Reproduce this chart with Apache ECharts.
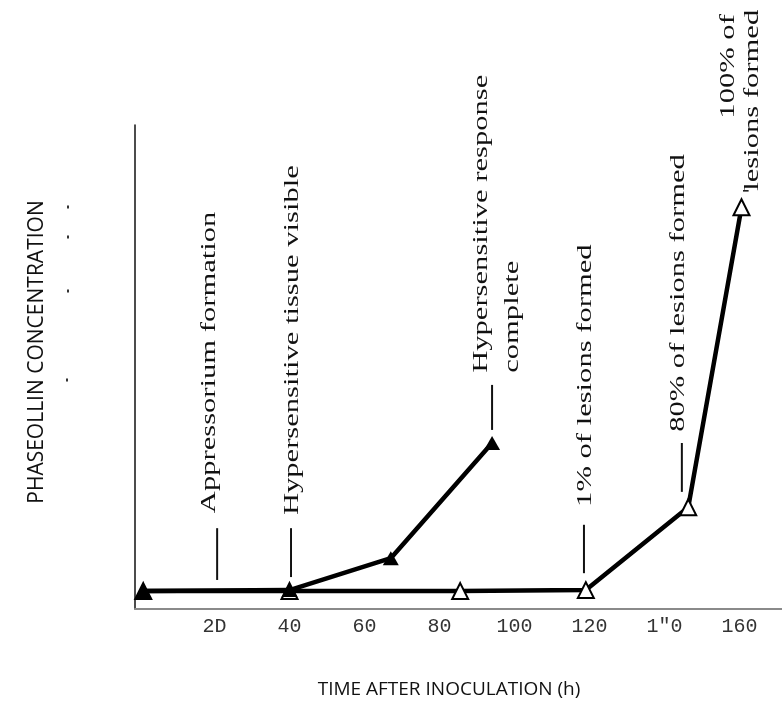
<!DOCTYPE html>
<html>
<head>
<meta charset="utf-8">
<script src="https://cdn.jsdelivr.net/npm/echarts@6/dist/echarts.min.js"></script>
<style>
  html, body { margin: 0; padding: 0; background: #fff; }
  #main { width: 782px; height: 728px; }
</style>
</head>
<body>
<div id="main"></div>
<script>
// hours after inoculation / phaseollin (relative units, no y scale in the original)
const hoursOpen = [1, 40, 85.5, 119, 146.3, 160.5];
const concOpen = [3.7, 3.7, 3.7, 3.9, 21.0, 83.0];
const hoursFilled = [1, 40, 67, 94];
const concFilled = [3.7, 3.9, 10.5, 34.3];

// tick labels as printed (scan typos kept)
const tickValues = [20, 40, 60, 80, 100, 120, 140, 160];
const tickLabels = ['2D', '40', '60', '80', '100', '120', '1"0', '160'];

// event notes, in data units
const noteTexts = ['Appressorium formation', 'Hypersensitive tissue visible', 'Hypersensitive response', 'complete',
  '1% of lesions formed', '80% of lesions formed', '100% of', 'lesions formed'];
const noteX = [18.5, 40.7, 91.0, 99.3, 118.8, 143.6, 156.9, 163.3];
const noteY = [19.8, 19.4, 48.8, 48.8, 21.1, 36.6, 122.9, 123.8];
const noteAlign = ['left', 'left', 'left', 'left', 'left', 'left', 'right', 'right'];

const leaderX = [20.7, 40.4, 94.0, 118.5, 144.6];
const leaderTop = [16.7, 16.7, 46.3, 17.4, 34.3];
const leaderBottom = [6.0, 6.6, 37.0, 7.4, 24.2];

const chart = echarts.init(document.getElementById('main'));

chart.setOption({
  animation: false,
  backgroundColor: '#fff',
  grid: { left: 135, right: 0, top: 125, bottom: 119, containLabel: false, outerBoundsMode: 'none' },
  xAxis: {
    type: 'value',
    min: -1.2,
    max: 171.3,
    axisLine: { show: true, lineStyle: { color: '#8a8a8a', width: 2 } },
    axisTick: { show: false },
    splitLine: { show: false },
    axisLabel: {
      customValues: tickValues,
      formatter: v => tickLabels[tickValues.indexOf(v)],
      fontFamily: 'Liberation Mono',
      fontSize: 20,
      color: '#333',
      margin: 8
    }
  },
  yAxis: {
    type: 'value',
    min: 0,
    max: 100,
    axisLine: { show: true, onZero: false, lineStyle: { color: '#111', width: 1.5 } },
    axisTick: { show: false },
    axisLabel: { show: false },
    splitLine: { show: false }
  },
  series: [
    {
      type: 'line',
      data: hoursOpen.map((h, i) => [h, concOpen[i]]),
      symbol: 'triangle',
      symbolSize: 16,
      lineStyle: { color: '#000', width: 4.5 },
      itemStyle: { color: '#fff', borderColor: '#000', borderWidth: 2 },
      silent: true,
      z: 2
    },
    {
      type: 'line',
      data: hoursFilled.map((h, i) => [h, concFilled[i]]),
      symbol: 'triangle',
      symbolSize: [16, 14],
      lineStyle: { color: '#000', width: 4.5 },
      itemStyle: { color: '#000' },
      silent: true,
      z: 3
    }
  ]
});

const toPx = p => chart.convertToPixel({ gridIndex: 0 }, p);

const graphics = [];
noteTexts.forEach((t, i) => {
  const [x, y] = toPx([noteX[i], noteY[i]]);
  graphics.push({
    type: 'text', x: x, y: y, rotation: Math.PI / 2, scaleX: 1.39,
    style: {
      text: t, fontFamily: 'Liberation Serif', fontSize: 22, fill: '#111',
      align: noteAlign[i], verticalAlign: 'middle'
    }
  });
});
leaderX.forEach((lx, i) => {
  const [x1, y1] = toPx([lx, leaderTop[i]]);
  const [x2, y2] = toPx([lx, leaderBottom[i]]);
  graphics.push({ type: 'line', shape: { x1: x1, y1: y1, x2: x2, y2: y2 }, style: { stroke: '#111', lineWidth: 2 } });
});
// small tick beside the last point
const [dx1, dy] = toPx([160.9, 86.4]);
const [dx2] = toPx([162.4, 86.4]);
graphics.push({ type: 'line', shape: { x1: dx1, y1: dy, x2: dx2, y2: dy }, style: { stroke: '#111', lineWidth: 1.5 } });

// faint specks next to the y title in the scan
[[68, 207], [68, 237], [68, 291], [67, 380]].forEach(([x, y]) => {
  graphics.push({ type: 'rect', shape: { x: x - 1, y: y - 1.5, width: 2, height: 3 }, style: { fill: '#333' } });
});

graphics.push({
  type: 'text', x: 449, y: 690,
  style: { text: 'TIME AFTER INOCULATION (h)', fontFamily: 'Open Sans', fontSize: 19, fill: '#111', align: 'center', verticalAlign: 'middle' }
});
graphics.push({
  type: 'text', x: 37, y: 352, rotation: Math.PI / 2,
  style: { text: 'PHASEOLLIN CONCENTRATION', fontFamily: 'Open Sans', fontSize: 21, fill: '#111', align: 'center', verticalAlign: 'middle' }
});

chart.setOption({ graphic: graphics });
</script>
</body>
</html>
